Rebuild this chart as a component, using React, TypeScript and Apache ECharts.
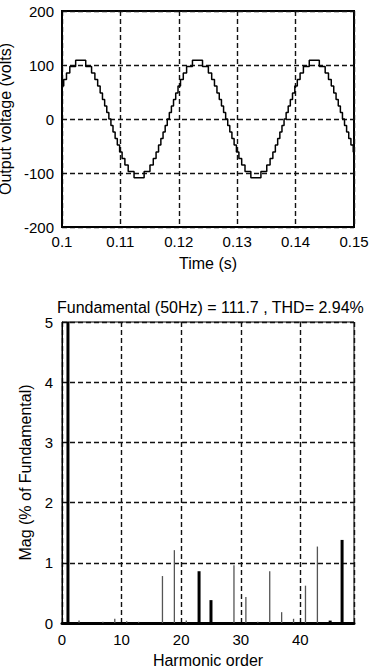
import React, { useEffect, useRef } from "react";
import * as echarts from "echarts";

const FONT = "'Liberation Sans', Arial, sans-serif";

// Top plot: staircase output voltage (time in s, volts)
const waveTime = [
  0.1, 0.100292, 0.100769, 0.101336, 0.102338, 0.104062, 0.105064, 0.105631, 0.106108, 0.106533,
  0.106929, 0.107304, 0.107667, 0.108023, 0.108377, 0.108733, 0.109096, 0.109471, 0.109867, 0.110292,
  0.110769, 0.111336, 0.112338, 0.114062, 0.115064, 0.115631, 0.116108, 0.116533, 0.116929, 0.117304,
  0.117667, 0.118023, 0.118377, 0.118733, 0.119096, 0.119471, 0.119867, 0.120292, 0.120769, 0.121336,
  0.122338, 0.124062, 0.125064, 0.125631, 0.126108, 0.126533, 0.126929, 0.127304, 0.127667, 0.128023,
  0.128377, 0.128733, 0.129096, 0.129471, 0.129867, 0.130292, 0.130769, 0.131336, 0.132338, 0.134062,
  0.135064, 0.135631, 0.136108, 0.136533, 0.136929, 0.137304, 0.137667, 0.138023, 0.138377, 0.138733,
  0.139096, 0.139471, 0.139867, 0.140292, 0.140769, 0.141336, 0.142338, 0.144062, 0.145064, 0.145631,
  0.146108, 0.146533, 0.146929, 0.147304, 0.147667, 0.148023, 0.148377, 0.148733, 0.149096, 0.149471,
  0.149867, 0.15,
];
const waveVolt = [
  61, 73, 85, 97, 109, 97, 85, 73, 61, 48, 36, 24, 12, 0, -12, -24, -36, -48, -61, -73, -85, -97, -109,
  -97, -85, -73, -61, -48, -36, -24, -12, 0,
  12, 24, 36, 48, 61, 73, 85, 97, 109, 97, 85, 73, 61, 48, 36, 24, 12, 0, -12, -24, -36, -48, -61, -73,
  -85, -97, -109, -97, -85, -73, -61, -48, -36, -24, -12, 0,
  12, 24, 36, 48, 61, 73, 85, 97, 109, 97, 85, 73, 61, 48, 36, 24, 12, 0, -12, -24, -36, -48, -61, -61,
];

// Bottom plot: harmonic spectrum (% of fundamental)
const harmonicOrders = [1, 3, 7, 9, 11, 13, 17, 19, 21, 23, 25, 29, 31, 33, 35, 37, 39, 41, 43, 45, 47];
const harmonicMags = [100, 0.04, 0.02, 0.07, 0.03, 0.02, 0.78, 1.21, 0.04, 0.86, 0.38, 0.96, 0.43, 0.02, 0.86, 0.18, 0.07, 0.62, 1.27, 0.04, 1.38];
const boldOrders = [1, 23, 25, 45, 47];

const titleText = "Fundamental (50Hz) = 111.7 , THD= 2.94%";

export default function App() {
  const ref = useRef<HTMLDivElement>(null);
  useEffect(() => {
    const chart = echarts.init(ref.current!, null, { renderer: "svg" });
    const wave = waveTime.map((t, i) => [t, waveVolt[i]]);
    const spec = harmonicOrders.map((h, i) => [h, harmonicMags[i]]);
    const thin = spec.filter((d) => !boldOrders.includes(d[0]));
    const bold = spec.filter((d) => boldOrders.includes(d[0]));
    const dash = { type: [5, 3] as any, color: "#111", width: 1.4 };
    const lbl = { color: "#000", fontSize: 15, fontFamily: FONT };
    const nm = { color: "#000", fontSize: 16, fontFamily: FONT };
    chart.setOption({
      animation: false,
      backgroundColor: "#fff",
      title: {
        text: titleText,
        left: 52,
        top: 294,
        textStyle: { color: "#000", fontSize: 16, fontWeight: "normal", fontFamily: FONT },
      },
      grid: [
        { left: 62, top: 11, width: 292, height: 216, show: true, borderColor: "#000", borderWidth: 2, backgroundColor: "transparent", containLabel: false, outerBoundsMode: "none" },
        { left: 62, top: 322, width: 292, height: 301, show: true, borderColor: "#000", borderWidth: 1, backgroundColor: "transparent", containLabel: false, outerBoundsMode: "none" },
      ],
      xAxis: [
        {
          type: "value", gridIndex: 0, min: 0.1, max: 0.15, interval: 0.01,
          axisLine: { show: true, onZero: false, lineStyle: { color: "#000", width: 1.5 } },
          axisTick: { show: false },
          splitLine: { show: true, lineStyle: dash },
          axisLabel: { ...lbl, margin: 7, formatter: (v: number) => String(+v.toFixed(2)) },
          name: "Time (s)", nameLocation: "middle", nameGap: 28, nameTextStyle: nm,
        },
        {
          type: "value", gridIndex: 1, min: 0, max: 49, interval: 10,
          axisLine: { show: true, onZero: false, lineStyle: { color: "#000", width: 3 } },
          axisTick: { show: false },
          splitLine: { show: true, lineStyle: dash },
          axisLabel: { ...lbl, margin: 9, showMaxLabel: false },
          name: "Harmonic order", nameLocation: "middle", nameGap: 29, nameTextStyle: nm,
        },
      ],
      yAxis: [
        {
          type: "value", gridIndex: 0, min: -200, max: 200, interval: 100,
          axisLine: { show: true, onZero: false, lineStyle: { color: "#000", width: 1.5 } },
          axisTick: { show: false },
          splitLine: { show: true, lineStyle: dash },
          axisLabel: { ...lbl, margin: 8 },
          name: "Output voltage (volts)", nameLocation: "middle", nameGap: 42, nameTextStyle: nm,
        },
        {
          type: "value", gridIndex: 1, min: 0, max: 5, interval: 1,
          axisLine: { show: true, onZero: false, lineStyle: { color: "#000", width: 1 } },
          axisTick: { show: false },
          splitLine: { show: true, lineStyle: dash },
          axisLabel: { ...lbl, margin: 9 },
          name: "Mag (% of Fundamental)", nameLocation: "middle", nameGap: 27, nameTextStyle: nm,
        },
      ],
      series: [
        {
          type: "line", xAxisIndex: 0, yAxisIndex: 0, data: wave, step: "end",
          showSymbol: false, symbol: "none",
          lineStyle: { color: "#000", width: 1.5 },
        },
        {
          type: "bar", xAxisIndex: 1, yAxisIndex: 1, data: thin, barWidth: 1.3, clip: true,
          itemStyle: { color: "#555" },
        },
        {
          type: "bar", xAxisIndex: 1, yAxisIndex: 1, data: bold, barWidth: 3, barGap: "-100%", clip: true,
          itemStyle: { color: "#000" },
        },
      ],
    });
    return () => chart.dispose();
  }, []);
  return (
    <div
      ref={ref}
      style={{ position: "fixed", left: 0, top: 0, width: 371, height: 667, background: "#fff" }}
    />
  );
}
